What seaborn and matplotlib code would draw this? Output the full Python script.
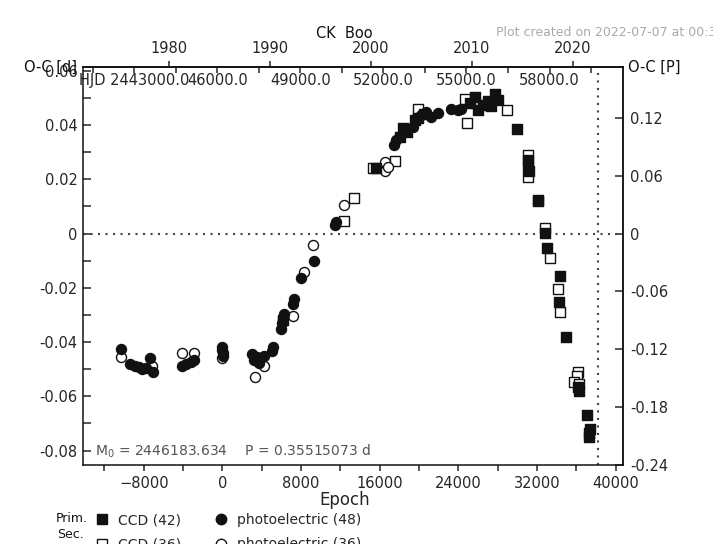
import numpy as np
import pandas as pd
import matplotlib
matplotlib.use("Agg")
import matplotlib.pyplot as plt
from matplotlib.ticker import FixedLocator, MultipleLocator
from matplotlib.lines import Line2D
import seaborn as sns

# ---------------- data ----------------
M0 = 2446183.634
P = 0.35515073
now_hjd = 2459767.5  # 2022-07-07

prim_pe_epoch = [-10340, -9360, -8900, -8510, -8160, -7800, -7390, -7080,
                 -4080, -3700, -3240, -2900, 0, 0, 20, 20,
                 3060, 3220, 3500, 3700, 4240, 5100, 5050,
                 5950, 6050, 6150, 6250, 7300, 7200, 7990, 9350,
                 11580, 11500, 17450, 17700, 19390, 20240, 20750, 21250,
                 21940, 23300, 23980, 24300]
prim_pe_oc = [-0.0426, -0.0481, -0.0488, -0.0493, -0.0499, -0.0497, -0.0460, -0.0509,
              -0.0487, -0.0480, -0.0472, -0.0465, -0.0420, -0.0430, -0.0440, -0.0450,
              -0.0444, -0.0468, -0.0455, -0.0478, -0.0450, -0.0420, -0.0432,
              -0.0352, -0.0330, -0.0310, -0.0295, -0.0242, -0.0260, -0.0163, -0.0102,
              0.0044, 0.0033, 0.0327, 0.0345, 0.0394, 0.0437, 0.0449, 0.0431,
              0.0443, 0.0461, 0.0457, 0.0460]

prim_ccd_epoch = [6200, 15640, 18020, 18370, 18800, 19550, 19900, 20500,
                  25200, 25670, 26020, 26500, 27000, 27300, 27710, 28060,
                  29930, 31050, 31100, 31150, 32140, 32050, 32820, 32990,
                  34350, 34250, 34960, 36220, 36180, 37070, 37350, 37250, 37300]
prim_ccd_oc = [-0.0320, 0.0241, 0.0357, 0.0388, 0.0375, 0.0418, 0.0425, 0.0440,
               0.0480, 0.0504, 0.0455, 0.0475, 0.0490, 0.0470, 0.0516, 0.0492,
               0.0384, 0.0272, 0.0250, 0.0229, 0.0119, 0.0125, 0.0003, -0.0053,
               -0.0157, -0.0252, -0.0383, -0.0579, -0.0565, -0.0670, -0.0719, -0.0750, -0.0735]

sec_ccd_epoch = [12410, 13430, 15300, 17510, 19900, 24650, 24830, 25670, 28910,
                 31050, 31120, 32820, 33330, 34180, 34350, 36150, 36050, 35710, 36220]
sec_ccd_oc = [0.0045, 0.0131, 0.0241, 0.0269, 0.0461, 0.0495, 0.0406, 0.0480, 0.0455,
              0.0290, 0.0210, 0.0021, -0.0089, -0.0206, -0.0289, -0.0509, -0.0525, -0.0546, -0.0554]

sec_pe_epoch = [-10340, -7140, -4080, -2900, 0, 3300, 4180, 7140, 8330, 9180,
                12410, 16490, 16490, 16800]
sec_pe_oc = [-0.0456, -0.0487, -0.0440, -0.0440, -0.0459, -0.0530, -0.0489, -0.0303,
             -0.0142, -0.0043, 0.0106, 0.0265, 0.0229, 0.0247]

legend_labels = ["CCD (42)", "CCD (36)", "photoelectric (48)", "photoelectric (36)"]

x_ticks = [-8000, 0, 8000, 16000, 24000, 32000, 40000]
y_ticks = [-0.08, -0.06, -0.04, -0.02, 0.0, 0.02, 0.04, 0.06]
y_labels = ["-0.08", "-0.06", "-0.04", "-0.02", "0", "0.02", "0.04", "0.06"]
p_ticks = [-0.24, -0.18, -0.12, -0.06, 0.0, 0.06, 0.12]
p_labels = ["-0.24", "-0.18", "-0.12", "-0.06", "0", "0.06", "0.12"]
year_ticks = [1980, 1990, 2000, 2010, 2020]
hjd_ticks = [2443000, 2446000, 2449000, 2452000, 2455000, 2458000]
hjd_labels = ["HJD 2443000.0", "46000.0", "49000.0", "52000.0", "55000.0", "58000.0"]
hjd_minor = [2441500, 2444500, 2447500, 2450500, 2453500, 2456500, 2459500]

# ---------------- style ----------------
sns.set_style("white")
plt.rcParams['font.family'] = ['DejaVu Sans']
plt.rcParams['font.size'] = 10
plt.rcParams['axes.linewidth'] = 1.1

def e2hjd(e):
    return M0 + P * np.asarray(e, dtype=float)

def hjd2e(h):
    return (np.asarray(h, dtype=float) - M0) / P

def e2year(e):
    return 2000.0 + (e2hjd(e) - 2451545.0) / 365.25

def year2e(y):
    return hjd2e((np.asarray(y, dtype=float) - 2000.0) * 365.25 + 2451545.0)

def d2p(v):
    return np.asarray(v, dtype=float) / P

def p2d(v):
    return np.asarray(v, dtype=float) * P

fig = plt.figure(figsize=(7.13, 5.44), dpi=100)
ax = fig.add_axes([0.1164, 0.1452, 0.7574, 0.7316])

ms = 52
ink = "#111111"
groups = [
    (sec_ccd_epoch, sec_ccd_oc, "s", "white"),
    (sec_pe_epoch, sec_pe_oc, "o", "white"),
    (prim_ccd_epoch, prim_ccd_oc, "s", ink),
    (prim_pe_epoch, prim_pe_oc, "o", ink),
]
for ep, oc, mk, fc in groups:
    df = pd.DataFrame({"E": ep, "OC": oc})
    sns.scatterplot(data=df, x="E", y="OC", marker=mk, s=ms, color=fc,
                    edgecolor=ink, linewidth=1.0, ax=ax, legend=False, zorder=3)

ax.set_xlim(-14180, 40745)
ax.set_ylim(-0.08535, 0.0614)

ax.axhline(0, color="#444444", lw=1.5, ls=(0, (1, 2.6)), zorder=1)
ax.axvline(float(hjd2e(now_hjd)), color="#444444", lw=1.5, ls=(0, (1, 2.6)), zorder=1)

# bottom axis
ax.set_xticks(x_ticks)
ax.xaxis.set_minor_locator(MultipleLocator(4000))
ax.tick_params(axis="x", which="both", direction="out", length=4, width=1.1,
               top=False, bottom=True, labelsize=10.5, pad=4)
ax.set_xlabel("Epoch", fontsize=12)
ax.xaxis.set_label_coords((345 - 83) / 540, -0.066)

# left axis
ax.set_yticks(y_ticks, labels=y_labels)
ax.yaxis.set_minor_locator(MultipleLocator(0.01))
ax.tick_params(axis="y", which="both", direction="in", length=6, width=1.1,
               left=True, right=False, labelsize=10.5, pad=4)
ax.set_ylabel("")
for s in ax.spines.values():
    s.set_color(ink)

# right axis in phase units
secy = ax.secondary_yaxis("right", functions=(d2p, p2d))
secy.set_yticks(p_ticks, labels=p_labels)
secy.tick_params(axis="y", direction="in", length=6, width=1.1, labelsize=10.5, pad=5)
secy.spines["right"].set_linewidth(1.1)

# top axis: years
secx_year = ax.secondary_xaxis("top", functions=(e2year, year2e))
secx_year.set_xticks(year_ticks, labels=[str(y) for y in year_ticks])
secx_year.tick_params(axis="x", direction="out", length=4, width=1.1, labelsize=10.5, pad=4)
secx_year.spines["top"].set_linewidth(1.1)

# top axis: HJD, labels inside
secx_hjd = ax.secondary_xaxis("top", functions=(e2hjd, hjd2e))
secx_hjd.set_xticks(hjd_ticks, labels=hjd_labels)
secx_hjd.xaxis.set_minor_locator(FixedLocator(hjd_minor))
secx_hjd.tick_params(axis="x", which="both", direction="in", length=4, width=1.1,
                     labelsize=10.5, pad=-15)

# texts
ax.text(-0.012, 1.0, "O-C [d]", transform=ax.transAxes, ha="right", va="center",
        fontsize=10.5, color=ink)
ax.text(1.009, 1.0, "O-C [P]", transform=ax.transAxes, ha="left", va="center",
        fontsize=10.5, color=ink)
ax.text(0.022, 0.034, r"M$_0$ = 2446183.634    P = 0.35515073 d",
        transform=ax.transAxes, ha="left", va="center", fontsize=10, color="#555555")
fig.text(344 / 713, 1 - 33 / 544, "CK  Boo", ha="center", va="center", fontsize=10.5, color=ink)
fig.text(496 / 713, 1 - 33 / 544, "Plot created on 2022-07-07 at 00:31",
         ha="left", va="center", fontsize=9, color="#aaaaaa")

# legend
handles = [
    Line2D([], [], ls="none", marker="s", ms=7, mfc=ink, mec=ink),
    Line2D([], [], ls="none", marker="s", ms=7, mfc="white", mec=ink),
    Line2D([], [], ls="none", marker="o", ms=7.5, mfc=ink, mec=ink),
    Line2D([], [], ls="none", marker="o", ms=7.5, mfc="white", mec=ink),
]
fig.legend(handles, legend_labels, ncol=2, loc="upper left",
           bbox_to_anchor=(95 / 713, 1 - 513 / 544), frameon=False, fontsize=10,
           handlelength=1.0, handletextpad=0.65, columnspacing=2.4,
           labelspacing=0.75, borderpad=0, borderaxespad=0)
fig.text(56 / 713, 1 - 519 / 544, "Prim.", ha="left", va="center", fontsize=9, color=ink)
fig.text(57 / 713, 1 - 535 / 544, "Sec.", ha="left", va="center", fontsize=9, color=ink)

fig.savefig("out.png", dpi=100)
